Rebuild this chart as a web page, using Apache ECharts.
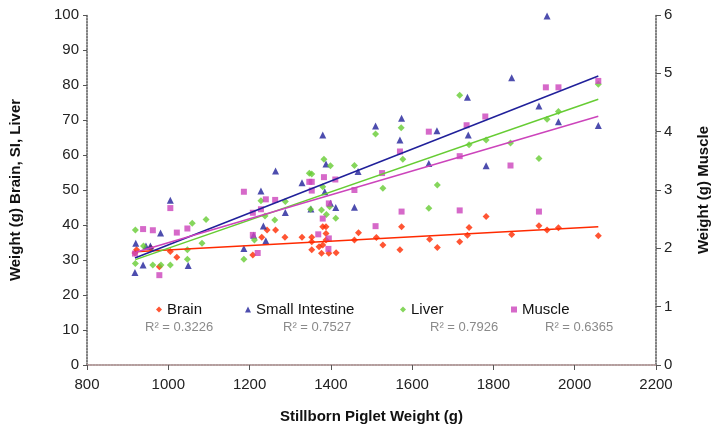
<!DOCTYPE html>
<html>
<head>
<meta charset="utf-8">
<script src="https://cdn.jsdelivr.net/npm/echarts@6/dist/echarts.min.js"></script>
<style>
  html, body { margin: 0; padding: 0; background: #fff; }
  #chart { width: 719px; height: 438px; }
</style>
</head>
<body>
<div id="chart"></div>
<script>
// [stillborn piglet weight (g), organ weight (g)]
var brain = [
  [918, 32], [922, 32.9], [957, 33.4], [978, 28.1], [1005, 32.4], [1021, 30.8],
  [1208, 31.4], [1230, 36.5], [1243, 38.6], [1264, 38.6], [1287, 36.5], [1329, 36.5],
  [1353, 36.5], [1353, 35.2], [1353, 32.9], [1371, 33.8], [1377, 31.9], [1380, 39.5],
  [1380, 34.3], [1388, 35.7], [1388, 37.6], [1395, 31.9], [1413, 32.1], [1388, 39.5],
  [1458, 35.7], [1468, 37.8], [1512, 36.4], [1528, 34.3], [1574, 39.5], [1570, 32.9],
  [1643, 35.9], [1662, 33.6], [1717, 35.2], [1736, 37.1], [1740, 39.3], [1782, 42.4],
  [1845, 37.3], [1912, 39.8], [1932, 38.6], [1960, 39.2], [2058, 36.9]
];
var smallIntestine = [
  [918, 26.4], [938, 28.6], [956, 34], [920, 34.8], [945, 34], [981, 37.7], [1005, 47.1],
  [1049, 28.4], [1186, 33.3], [1210, 37.1], [1228, 49.7], [1234, 39.7], [1240, 35.5],
  [1264, 55.4], [1288, 43.6], [1329, 52.1], [1351, 44.6], [1380, 65.7], [1388, 57.4],
  [1385, 49.5], [1399, 46.2], [1412, 45], [1458, 45.1], [1467, 55.3], [1510, 68.3],
  [1574, 70.5], [1570, 64.3], [1661, 66.9], [1641, 57.6], [1736, 76.5], [1738, 65.7],
  [1782, 56.9], [1845, 82.1], [1912, 74], [1932, 99.7], [1960, 69.5], [2058, 68.4]
];
var liver = [
  [919, 38.6], [919, 29], [939, 34], [962, 28.6], [982, 28.6], [1005, 28.6], [1047, 30.2],
  [1047, 32.9], [1059, 40.5], [1093, 41.6], [1083, 34.8], [1186, 30.2], [1212, 35.7],
  [1228, 46.9], [1238, 42.6], [1262, 41.4], [1288, 46.7], [1347, 54.8], [1383, 58.8],
  [1399, 56.9], [1353, 54.6], [1380, 50.9], [1350, 44.5], [1377, 44.3], [1397, 45.2],
  [1389, 43], [1412, 41.9], [1458, 57], [1510, 66], [1528, 50.5], [1573, 67.8],
  [1577, 58.8], [1662, 51.4], [1641, 44.8], [1717, 77.1], [1740, 62.9], [1782, 64.3],
  [1842, 63.4], [1912, 59], [1932, 70.2], [1960, 72.4], [2058, 80.2]
];
var muscle = [
  [918, 1.91], [938, 2.33], [962, 2.31], [978, 1.54], [1005, 2.69], [1021, 2.27],
  [1047, 2.34], [1186, 2.97], [1208, 2.61], [1228, 2.67], [1240, 2.84], [1263, 2.83],
  [1220, 1.92], [1208, 2.23], [1347, 3.14], [1353, 3.14], [1383, 3.22], [1353, 2.99],
  [1411, 3.18], [1395, 2.77], [1380, 2.51], [1369, 2.24], [1395, 2.17], [1394, 1.99],
  [1458, 3.0], [1526, 3.29], [1510, 2.38], [1570, 3.66], [1574, 2.63], [1641, 4.0],
  [1717, 2.65], [1717, 3.58], [1734, 4.11], [1780, 4.26], [1842, 3.42], [1912, 2.63],
  [1929, 4.76], [1960, 4.76], [2058, 4.87]
];
var seriesNames = ['Brain', 'Small Intestine', 'Liver', 'Muscle'];
var rSquared = ['0.3226', '0.7527', '0.7926', '0.6365'];

var colors = ['#ff2a00', '#20209a', '#66cc33', '#cc44bb'];
var symbols = ['diamond', 'triangle', 'diamond', 'rect'];
var sizes = [7, 7, 7, 6];

// least squares trend line from min x to max x
function trend(pts) {
  var n = pts.length, sx = 0, sy = 0, sxx = 0, sxy = 0;
  var lo = Infinity, hi = -Infinity;
  pts.forEach(function (p) {
    sx += p[0]; sy += p[1]; sxx += p[0] * p[0]; sxy += p[0] * p[1];
    lo = Math.min(lo, p[0]); hi = Math.max(hi, p[0]);
  });
  var b = (n * sxy - sx * sy) / (n * sxx - sx * sx);
  var a = (sy - b * sx) / n;
  return [[lo, a + b * lo], [hi, a + b * hi]];
}

var chart = echarts.init(document.getElementById('chart'));
var allData = [brain, smallIntestine, liver, muscle];
var series = [];
allData.forEach(function (d, i) {
  series.push({
    name: seriesNames[i],
    type: 'scatter',
    yAxisIndex: i === 3 ? 1 : 0,
    data: d,
    symbol: symbols[i],
    symbolSize: sizes[i],
    itemStyle: { color: colors[i] },
    z: 3
  });
  series.push({
    name: seriesNames[i] + ' trend',
    type: 'line',
    yAxisIndex: i === 3 ? 1 : 0,
    data: trend(d),
    symbol: 'none',
    lineStyle: { color: colors[i], width: 1.5 },
    silent: true,
    z: 4
  });
});

var font = 'Liberation Sans, Arial, sans-serif';

// one legend per item so the uneven spacing can be kept
var legendLeft = [151, 240, 395, 506];
var legends = seriesNames.map(function (name, i) {
  return {
    data: [name],
    top: 297,
    left: legendLeft[i],
    itemGap: 6,
    itemWidth: 6,
    itemHeight: 6,
    textStyle: { fontFamily: font, fontSize: 15, color: '#111' }
  };
});

var rX = [145, 283, 430, 545];
var graphics = rSquared.map(function (r, i) {
  return {
    type: 'text',
    left: rX[i],
    top: 321,
    style: { text: 'R\u00b2 = ' + r, fill: '#8a8a8a', font: '13px ' + font }
  };
});

chart.setOption({
  animation: false,
  backgroundColor: '#fff',
  grid: { left: 83, right: 59, top: 15, bottom: 73 },
  legend: legends,
  graphic: graphics,
  xAxis: [{
    type: 'value',
    min: 800, max: 2200, interval: 200,
    name: 'Stillborn Piglet Weight (g)',
    nameLocation: 'middle',
    nameGap: 44,
    nameTextStyle: { fontFamily: font, fontSize: 15, fontWeight: 'bold', color: '#111' },
    axisLine: { lineStyle: { color: '#555', type: 'dotted', width: 1.5 } },
    axisTick: { length: 5, lineStyle: { color: '#555' } },
    axisLabel: {
      fontFamily: font, fontSize: 15, color: '#222', margin: 12,
      formatter: function (v) { return String(v); }
    },
    splitLine: { show: false }
  }, {
    type: 'value',
    position: 'top',
    min: 800, max: 2200,
    axisLine: { lineStyle: { color: '#c8a8a8', type: 'dotted', width: 1.5 } },
    axisTick: { show: false },
    axisLabel: { show: false },
    splitLine: { show: false }
  }],
  yAxis: [{
    type: 'value',
    min: 0, max: 100, interval: 10,
    name: 'Weight (g) Brain, SI, Liver',
    nameLocation: 'middle',
    nameGap: 64,
    nameTextStyle: { fontFamily: font, fontSize: 15, fontWeight: 'bold', color: '#111' },
    axisLine: { show: true, lineStyle: { color: '#555', type: 'dotted', width: 1.5 } },
    axisTick: { show: true, length: 4, lineStyle: { color: '#555' } },
    axisLabel: { fontFamily: font, fontSize: 15, color: '#222', margin: 8 },
    splitLine: { show: false }
  }, {
    type: 'value',
    position: 'right',
    min: 0, max: 6, interval: 1,
    name: 'Weight (g) Muscle',
    nameLocation: 'middle',
    nameGap: 40,
    nameRotate: 90,
    nameTextStyle: { fontFamily: font, fontSize: 15, fontWeight: 'bold', color: '#111' },
    axisLine: { show: true, lineStyle: { color: '#555', type: 'dotted', width: 1.5 } },
    axisTick: { show: true, length: 5, lineStyle: { color: '#555' } },
    axisLabel: { fontFamily: font, fontSize: 15, color: '#222', margin: 8 },
    splitLine: { show: false }
  }],
  series: series
});
</script>
</body>
</html>
